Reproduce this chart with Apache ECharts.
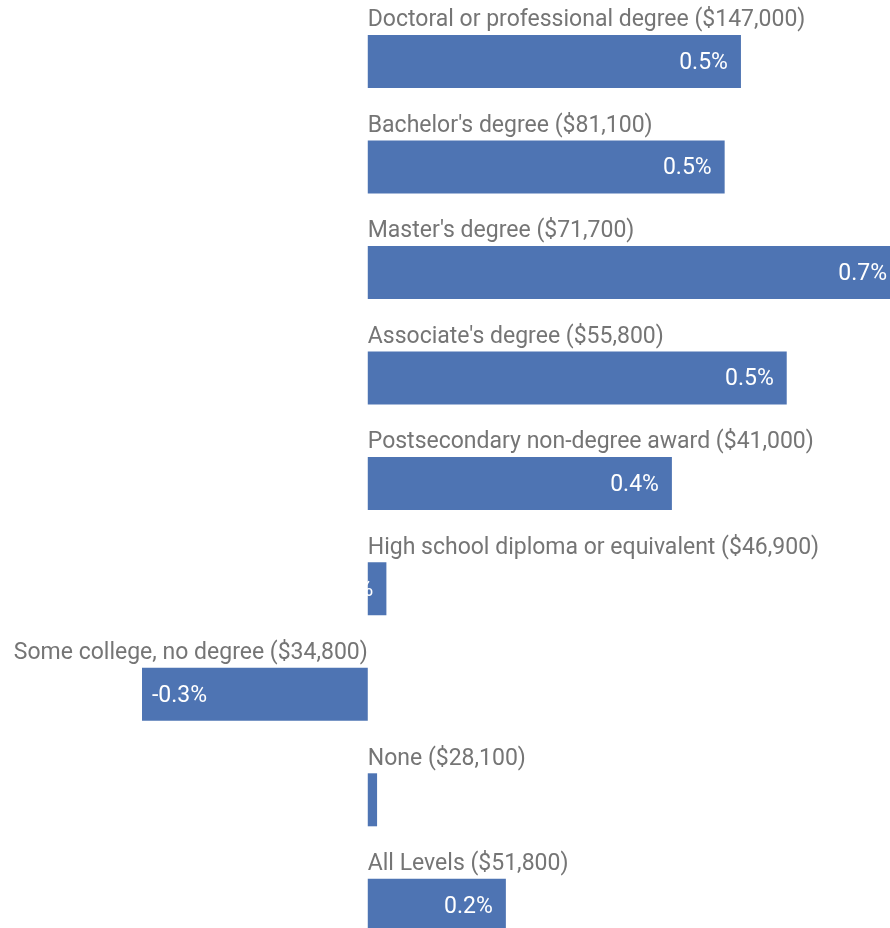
<!DOCTYPE html>
<html>
<head>
<meta charset="utf-8">
<script src="https://cdn.jsdelivr.net/npm/echarts@6/dist/echarts.min.js"></script>
<style>
html,body{margin:0;padding:0;background:#fff;overflow:hidden;width:890px;height:928px;}
#chart{width:900px;height:958px;}
</style>
</head>
<body>
<div id="chart"></div>
<script>
const categories = [
  "Doctoral or professional degree ($147,000)",
  "Bachelor's degree ($81,100)",
  "Master's degree ($71,700)",
  "Associate's degree ($55,800)",
  "Postsecondary non-degree award ($41,000)",
  "High school diploma or equivalent ($46,900)",
  "Some college, no degree ($34,800)",
  "None ($28,100)",
  "All Levels ($51,800)"
];
const changePct = [0.481, 0.460, 0.686, 0.540, 0.392, 0.024, -0.291, 0.012, 0.178];

const barColor = '#4e74b3';
const font = 'Roboto';

const valueData = changePct.map(v => ({
  value: v,
  label: {
    position: v < 0 ? 'insideLeft' : 'insideRight',
    distance: v < 0 ? 10 : 13
  }
}));
const nameData = changePct.map((v, i) => ({
  value: v,
  label: v < 0
    ? { position: ['100%', -3], align: 'right', verticalAlign: 'bottom' }
    : { position: [0, -3], align: 'left', verticalAlign: 'bottom' }
}));

const chart = echarts.init(document.getElementById('chart'), null, {renderer: 'canvas'});
chart.setOption({
  animation: false,
  backgroundColor: '#ffffff',
  grid: { left: 142, right: 0, top: 8.8, bottom: 0, containLabel: false },
  xAxis: {
    type: 'value',
    min: 'dataMin',
    max: 'dataMax',
    show: false
  },
  yAxis: {
    type: 'category',
    data: categories,
    inverse: true,
    show: false
  },
  series: [
    {
      type: 'bar',
      data: valueData,
      barWidth: 53,
      barGap: '-100%',
      itemStyle: { color: barColor },
      label: {
        show: true,
        color: '#ffffff',
        fontFamily: font,
        fontSize: 23,
        offset: [0, 1.5],
        formatter: p => p.value.toFixed(1) + '%'
      },
      z: 2
    },
    {
      type: 'bar',
      data: nameData,
      barWidth: 53,
      barGap: '-100%',
      itemStyle: { color: 'rgba(0,0,0,0)' },
      label: {
        show: true,
        color: '#757575',
        fontFamily: font,
        fontSize: 23,
        formatter: p => categories[p.dataIndex]
      },
      silent: true,
      z: 3
    }
  ]
});
</script>
</body>
</html>
